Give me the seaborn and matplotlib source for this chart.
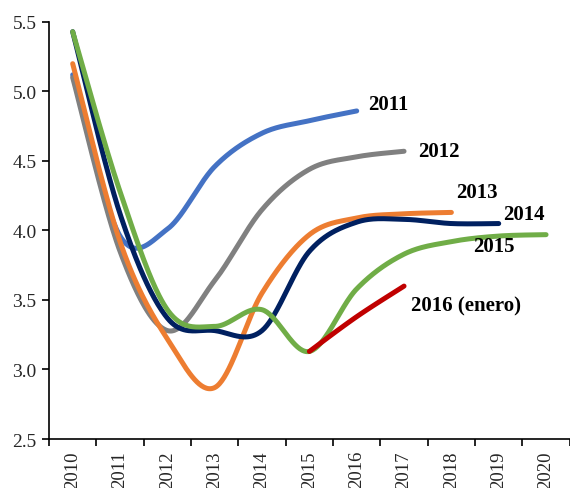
import numpy as np
import pandas as pd
import matplotlib
matplotlib.use("Agg")
import matplotlib.pyplot as plt
import seaborn as sns

years = [str(y) for y in range(2010, 2021)]

s2011 = [5.12, 3.96, 4.01, 4.46, 4.70, 4.79, 4.86]
s2012 = [5.10, 3.85, 3.28, 3.64, 4.15, 4.44, 4.53, 4.57]
s2013 = [5.20, 3.92, 3.22, 2.87, 3.55, 3.97, 4.09, 4.12, 4.13]
s2014 = [5.43, 4.12, 3.37, 3.28, 3.28, 3.85, 4.06, 4.08, 4.05, 4.05]
s2015 = [5.43, 4.28, 3.43, 3.31, 3.43, 3.13, 3.58, 3.83, 3.92, 3.96, 3.97]
s2016 = [3.13, 3.38, 3.60]
s2016_start = 5  # index of 2015

series_names = ["2011", "2012", "2013", "2014", "2015", "2016 (enero)"]
series_vals = [s2011, s2012, s2013, s2014, s2015, s2016]
series_start = [0, 0, 0, 0, 0, s2016_start]
colors = ["#4472C4", "#808080", "#ED7D31", "#002060", "#70AD47", "#C00000"]


def smooth(xs, ys, n=40):
    xs = np.asarray(xs, float)
    ys = np.asarray(ys, float)
    k = len(xs)
    if k < 2:
        return xs, ys
    px = np.concatenate([[xs[0]], xs, [xs[-1]]])
    py = np.concatenate([[ys[0]], ys, [ys[-1]]])
    ox, oy = [], []
    for i in range(k - 1):
        p0x, p1x, p2x, p3x = px[i], px[i + 1], px[i + 2], px[i + 3]
        p0y, p1y, p2y, p3y = py[i], py[i + 1], py[i + 2], py[i + 3]
        # Bezier control points (Excel-like smoothing)
        c1x = p1x + (p2x - p0x) / 6
        c1y = p1y + (p2y - p0y) / 6
        c2x = p2x - (p3x - p1x) / 6
        c2y = p2y - (p3y - p1y) / 6
        t = np.linspace(0, 1, n, endpoint=(i == k - 2))
        bx = (1 - t) ** 3 * p1x + 3 * (1 - t) ** 2 * t * c1x + 3 * (1 - t) * t ** 2 * c2x + t ** 3 * p2x
        by = (1 - t) ** 3 * p1y + 3 * (1 - t) ** 2 * t * c1y + 3 * (1 - t) * t ** 2 * c2y + t ** 3 * p2y
        ox.append(bx)
        oy.append(by)
    return np.concatenate(ox), np.concatenate(oy)


sns.set_theme(style="ticks")
plt.rcParams["font.family"] = ["Liberation Serif", "DejaVu Serif"]

fig = plt.figure(figsize=(5.70, 4.89), dpi=100)
ax = fig.add_axes([0.086, 0.1002, 0.9135, 0.8528])

for name, vals, st, col in zip(series_names, series_vals, series_start, colors):
    xs = np.arange(st, st + len(vals))
    sx, sy = smooth(xs, vals)
    df = pd.DataFrame({"x": sx, "y": sy})
    sns.lineplot(data=df, x="x", y="y", sort=False, estimator=None, color=col,
                 linewidth=3.6, ax=ax, solid_capstyle="round", legend=False)

ax.set_xlim(-0.5, 10.5)
ax.set_ylim(2.5, 5.5)
ax.set_yticks(np.arange(2.5, 5.51, 0.5))
ax.set_yticklabels([f"{v:.1f}" for v in np.arange(2.5, 5.51, 0.5)], fontsize=14)
ax.set_xticks(np.arange(len(years)))
ax.set_xticklabels(years, rotation=90, fontsize=13.5)
ax.set_xticks(np.arange(-0.5, len(years)), minor=True)
ax.tick_params(axis="x", which="major", length=0, pad=8)
ax.tick_params(axis="x", which="minor", length=5, width=1.2, direction="out", color="black")
ax.tick_params(axis="y", length=5, width=1.2, direction="out", color="black", pad=4)
ax.set_xlabel("")
ax.set_ylabel("")
for sp in ["top", "right"]:
    ax.spines[sp].set_visible(False)
for sp in ["left", "bottom"]:
    ax.spines[sp].set_color("black")
    ax.spines[sp].set_linewidth(1.2)

labels_pos = [(6.24, 4.91), (7.29, 4.57), (8.11, 4.28), (9.10, 4.12), (8.45, 3.89), (7.14, 3.46)]
for name, (lx, ly) in zip(series_names, labels_pos):
    ax.text(lx, ly, name, fontsize=15, fontweight="bold", ha="left", va="center", color="black")

fig.savefig("out.png", dpi=100)
